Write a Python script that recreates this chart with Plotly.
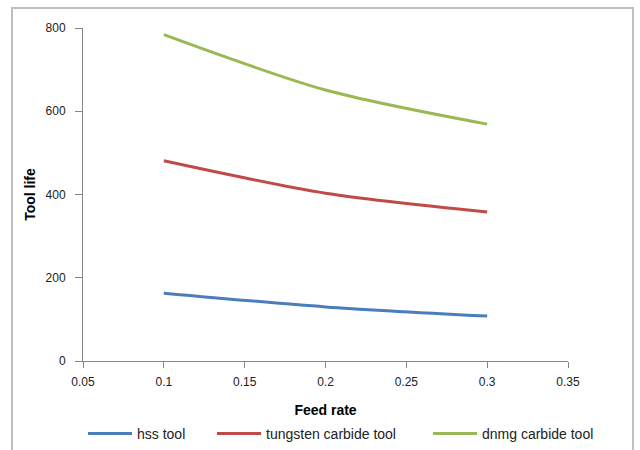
import plotly.graph_objects as go

feed_rate = [0.1, 0.2, 0.3]
hss_tool = [163, 130, 108]
tungsten_carbide_tool = [481, 403, 358]
dnmg_carbide_tool = [784, 651, 569]

series = [
    ("hss tool", hss_tool, "#4A7EBB", "legend", 83),
    ("tungsten carbide tool", tungsten_carbide_tool, "#BE4B48", "legend2", 212),
    ("dnmg carbide tool", dnmg_carbide_tool, "#98B954", "legend3", 428),
]

FONT = "Liberation Sans Narrow, Liberation Sans, Arial, sans-serif"
L, R, T, B = 83, 568, 28, 361
W = R - L
H = B - T

fig = go.Figure()
legends = {}
for name, vals, col, lg, px in series:
    fig.add_trace(go.Scatter(
        x=feed_rate, y=vals, name=name, mode="lines", legend=lg,
        line=dict(color=col, width=3, shape="spline", smoothing=0.8),
    ))
    legends[lg] = dict(orientation="h", x=(px - L) / W, xanchor="left",
                       y=-(418 - B) / H, yanchor="top", bgcolor="rgba(0,0,0,0)",
                       font=dict(size=14, color="#222"), itemwidth=44)

fig.update_layout(
    width=640, height=450,
    margin=dict(l=L, r=640 - R, t=T, b=450 - B, autoexpand=False),
    paper_bgcolor="white", plot_bgcolor="white",
    font=dict(family=FONT, size=12, color="#222"),
    showlegend=True,
    xaxis=dict(
        range=[0.05, 0.35], tickvals=[0.05, 0.1, 0.15, 0.2, 0.25, 0.3, 0.35],
        ticktext=["0.05", "0.1", "0.15", "0.2", "0.25", "0.3", "0.35"],
        showgrid=False, zeroline=False, showline=True, linecolor="#868686", linewidth=1,
        ticks="outside", ticklen=6, tickcolor="#868686", ticklabelstandoff=4,
        tickfont=dict(size=12, color="#222"), automargin=False,
        title=dict(text="<b>Feed rate</b>", font=dict(size=14, color="#000"), standoff=16),
    ),
    yaxis=dict(
        range=[0, 800], tickvals=[0, 200, 400, 600, 800],
        showgrid=False, zeroline=False, showline=True, linecolor="#868686", linewidth=1,
        ticks="outside", ticklen=7, tickcolor="#868686", ticklabelstandoff=7,
        tickfont=dict(size=12, color="#222"), automargin=False,
        title=dict(text="<b>Tool life</b>", font=dict(size=14, color="#000"), standoff=6),
    ),
    shapes=[dict(type="rect", xref="paper", yref="paper",
                 x0=(12 - L) / W, x1=(633 - L) / W, y0=-(470 - B) / H, y1=(B - 8) / H,
                 line=dict(color="#BFBFBF", width=2), fillcolor="rgba(0,0,0,0)", layer="below")],
    **legends,
)

fig.write_html("out.html", config={"displayModeBar": False},
               post_script="document.body.style.margin='0';")
